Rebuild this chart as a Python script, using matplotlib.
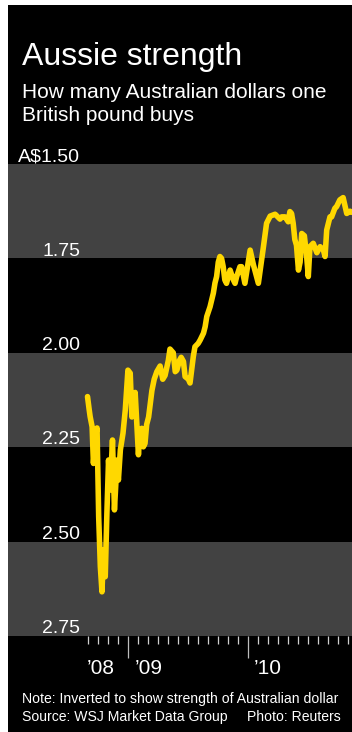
import matplotlib
matplotlib.use('Agg')
import matplotlib.pyplot as plt
import matplotlib.transforms as mtransforms
from matplotlib.patches import Rectangle
import numpy as np

plt.rcParams['font.family'] = ['Liberation Sans', 'DejaVu Sans']

# GBP/AUD (A$ per one pound)
dates = ['2008-08-30', '2008-09-04', '2008-09-07', '2008-09-13', '2008-09-17',
         '2008-09-23', '2008-09-28', '2008-10-03', '2008-10-08', '2008-10-13',
         '2008-10-18', '2008-10-23', '2008-10-28', '2008-11-02', '2008-11-07',
         '2008-11-14', '2008-11-20', '2008-11-28', '2008-12-02', '2008-12-08',
         '2008-12-16', '2008-12-23', '2008-12-31', '2009-01-07', '2009-01-12',
         '2009-01-17', '2009-01-22', '2009-01-27', '2009-02-01', '2009-02-06',
         '2009-02-11', '2009-02-16', '2009-02-21', '2009-02-26', '2009-03-04',
         '2009-03-14', '2009-03-21', '2009-03-29', '2009-04-08', '2009-04-16',
         '2009-04-23', '2009-05-03', '2009-05-08', '2009-05-18', '2009-05-24',
         '2009-05-29', '2009-06-06', '2009-06-11', '2009-06-18', '2009-06-23',
         '2009-07-03', '2009-07-08', '2009-07-18', '2009-07-23', '2009-08-02',
         '2009-08-08', '2009-08-18', '2009-08-23', '2009-08-28', '2009-09-07',
         '2009-09-12', '2009-09-17', '2009-09-22', '2009-09-27', '2009-10-02',
         '2009-10-07', '2009-10-12', '2009-10-17', '2009-10-22', '2009-10-27',
         '2009-11-07', '2009-11-17', '2009-11-22', '2009-11-27', '2009-12-07',
         '2009-12-12', '2009-12-22', '2010-01-07', '2010-01-17', '2010-02-01',
         '2010-02-16', '2010-02-26', '2010-03-09', '2010-03-24', '2010-04-08',
         '2010-04-13', '2010-04-23', '2010-05-03', '2010-05-08', '2010-05-13',
         '2010-05-18', '2010-05-23', '2010-05-28', '2010-06-03', '2010-06-08',
         '2010-06-13', '2010-06-21', '2010-06-28', '2010-07-03', '2010-07-08',
         '2010-07-18', '2010-07-29', '2010-08-08', '2010-08-18', '2010-08-23',
         '2010-08-28', '2010-09-07', '2010-09-12', '2010-09-22', '2010-09-27',
         '2010-10-07', '2010-10-17', '2010-10-28', '2010-11-07', '2010-11-13']
rate = [2.116, 2.150, 2.169, 2.196, 2.293,
        2.220, 2.199, 2.434, 2.566, 2.633,
        2.522, 2.593, 2.425, 2.284, 2.363,
        2.231, 2.416, 2.284, 2.337, 2.257,
        2.213, 2.151, 2.046, 2.054, 2.170,
        2.151, 2.105, 2.187, 2.270, 2.204,
        2.200, 2.249, 2.240, 2.190, 2.170,
        2.100, 2.070, 2.050, 2.035, 2.070,
        2.060, 2.020, 1.990, 2.000, 2.050,
        2.046, 2.020, 2.012, 2.023, 2.063,
        2.070, 2.080, 2.010, 1.984, 1.975,
        1.966, 1.948, 1.931, 1.904, 1.878,
        1.860, 1.842, 1.815, 1.798, 1.760,
        1.745, 1.750, 1.772, 1.807, 1.816,
        1.781, 1.807, 1.816, 1.798, 1.772,
        1.772, 1.816, 1.728, 1.767, 1.816,
        1.722, 1.657, 1.638, 1.633, 1.646,
        1.640, 1.640, 1.653, 1.626, 1.631,
        1.657, 1.700, 1.715, 1.781, 1.760,
        1.684, 1.690, 1.745, 1.798, 1.719,
        1.710, 1.735, 1.719, 1.728, 1.745,
        1.675, 1.640, 1.640, 1.617, 1.613,
        1.595, 1.589, 1.631, 1.625, 1.628]

y_levels = [1.50, 1.75, 2.00, 2.25, 2.50, 2.75]
y_labels = ['A$1.50', '1.75', '2.00', '2.25', '2.50', '2.75']
year_labels = ["\u201908", "\u201909", "\u201910"]
year_label_dates = ['2008-08-26', '2009-01-22', '2010-01-17']

W, H = 352, 732
fig = plt.figure(figsize=(W / 100, H / 100), dpi=100, facecolor='white')
fig.patches.append(Rectangle((8 / W, 0), 1, (H - 5) / H, transform=fig.transFigure,
                             facecolor='black', edgecolor='none', zorder=-10))

ax = fig.add_axes([8 / W, (H - 636) / H, (W - 8) / W, (636 - 164) / H])
ax.set_facecolor('black')
for lo, hi in zip(y_levels[0::2], y_levels[1::2]):
    ax.axhspan(lo, hi, color='#424242', lw=0, zorder=0)

x = np.array(dates, dtype='datetime64[D]')
ax.plot(x, rate, color='#FFD800', lw=4.0, solid_joinstyle='round', solid_capstyle='round', zorder=3)

ax.set_ylim(2.75, 1.50)
ax.set_xlim(np.datetime64('2008-01-01'), np.datetime64('2010-11-13'))
for s in ax.spines.values():
    s.set_visible(False)
ax.set_yticks([])

ax.set_xticks(np.array(['2009-01-01', '2010-01-01'], dtype='datetime64[D]'))
ax.set_xticklabels([])
months = np.arange(np.datetime64('2008-09'), np.datetime64('2010-12'), dtype='datetime64[M]')
ax.set_xticks(months.astype('datetime64[D]'), minor=True)
ax.tick_params(axis='x', which='major', direction='out', length=16, width=0.9, color='#bdbdbd')
ax.tick_params(axis='x', which='minor', direction='out', length=5.5, width=0.9, color='#d0d0d0')

# y labels sit just above each band edge
lab_tr = mtransforms.blended_transform_factory(ax.transAxes, ax.transData) + \
    mtransforms.ScaledTranslation(0, 2 / 72, fig.dpi_scale_trans)
for v, t in zip(y_levels, y_labels):
    ax.text(72 / (W - 8), v, t, transform=lab_tr, ha='right', va='baseline',
            color='white', fontsize=14, zorder=4)

yr_tr = mtransforms.blended_transform_factory(ax.transData, fig.transFigure)
for d, t in zip(year_label_dates, year_labels):
    ax.text(np.datetime64(d), 1 - 674 / H, t, transform=yr_tr, ha='left', va='baseline',
            color='white', fontsize=15, clip_on=False)

fig.text(22 / W, 1 - 65 / H, 'Aussie strength', color='white', fontsize=23, va='baseline')
fig.text(22 / W, 1 - 98 / H, 'How many Australian dollars one', color='white', fontsize=15, va='baseline')
fig.text(22 / W, 1 - 121 / H, 'British pound buys', color='white', fontsize=15, va='baseline')
fig.text(22 / W, 1 - 703 / H, 'Note: Inverted to show strength of Australian dollar',
         color='white', fontsize=10.1, va='baseline')
fig.text(22 / W, 1 - 721 / H, 'Source: WSJ Market Data Group     Photo: Reuters',
         color='white', fontsize=10.1, va='baseline')

fig.savefig('out.png', dpi=100, facecolor=fig.get_facecolor())
